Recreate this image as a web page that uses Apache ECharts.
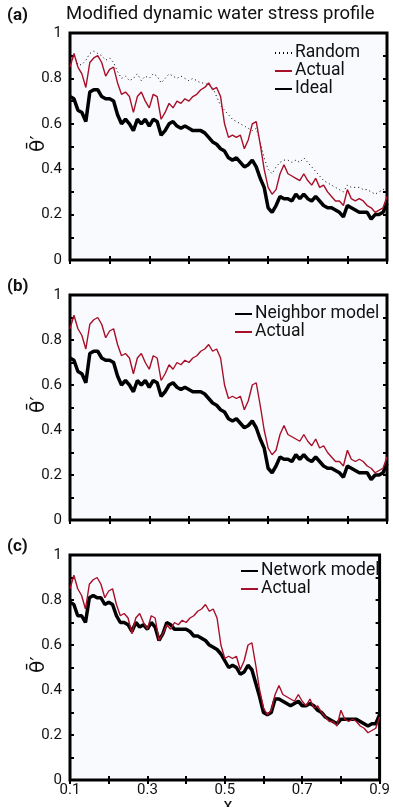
<!DOCTYPE html>
<html><head><meta charset="utf-8">
<script src="https://cdn.jsdelivr.net/npm/echarts@6/dist/echarts.min.js"></script>
<style>html,body{margin:0;padding:0;background:#fff}#c{width:393px;height:807px}</style>
</head><body><div id="c"></div>
<script>
// x positions (sample locations)
const xValues = [0.10,0.11,0.12,0.13,0.14,0.15,0.16,0.17,0.18,0.19,
  0.20,0.21,0.22,0.23,0.24,0.25,0.26,0.27,0.28,0.29,
  0.30,0.31,0.32,0.33,0.34,0.35,0.36,0.37,0.38,0.39,
  0.40,0.41,0.42,0.43,0.44,0.45,0.46,0.47,0.48,0.49,
  0.50,0.51,0.52,0.53,0.54,0.55,0.56,0.57,0.58,0.59,
  0.60,0.61,0.62,0.63,0.64,0.65,0.66,0.67,0.68,0.69,
  0.70,0.71,0.72,0.73,0.74,0.75,0.76,0.77,0.78,0.79,
  0.80,0.81,0.82,0.83,0.84,0.85,0.86,0.87,0.88,0.89,0.90];

const actual = [0.85,0.91,0.85,0.82,0.76,0.87,0.89,0.90,0.87,0.81,
  0.84,0.85,0.78,0.73,0.74,0.72,0.65,0.72,0.74,0.70,
  0.67,0.73,0.72,0.62,0.65,0.69,0.67,0.70,0.69,0.71,
  0.70,0.72,0.73,0.75,0.76,0.78,0.75,0.76,0.72,0.60,
  0.54,0.55,0.54,0.55,0.49,0.53,0.60,0.61,0.51,0.40,
  0.32,0.29,0.31,0.38,0.42,0.38,0.37,0.36,0.35,0.38,
  0.35,0.33,0.36,0.32,0.33,0.30,0.28,0.26,0.26,0.24,
  0.31,0.27,0.26,0.27,0.26,0.24,0.23,0.21,0.22,0.23,0.28];

const ideal = [0.72,0.71,0.66,0.65,0.61,0.74,0.75,0.75,0.72,0.71,
  0.71,0.70,0.64,0.60,0.62,0.60,0.57,0.62,0.60,0.62,
  0.59,0.62,0.61,0.55,0.57,0.60,0.61,0.59,0.58,0.59,
  0.58,0.57,0.57,0.57,0.56,0.54,0.52,0.51,0.49,0.48,
  0.45,0.44,0.45,0.43,0.41,0.42,0.44,0.41,0.36,0.32,
  0.23,0.21,0.24,0.28,0.27,0.27,0.26,0.29,0.27,0.29,
  0.27,0.26,0.28,0.26,0.24,0.23,0.23,0.22,0.21,0.19,
  0.24,0.23,0.22,0.21,0.21,0.21,0.18,0.20,0.20,0.21,0.25];

const neighborModel = [0.72,0.71,0.66,0.65,0.61,0.74,0.75,0.75,0.72,0.71,
  0.71,0.70,0.64,0.60,0.62,0.60,0.57,0.62,0.60,0.62,
  0.59,0.62,0.61,0.55,0.57,0.60,0.61,0.59,0.58,0.59,
  0.58,0.57,0.57,0.57,0.56,0.54,0.52,0.51,0.49,0.48,
  0.45,0.44,0.45,0.43,0.41,0.42,0.44,0.41,0.36,0.32,
  0.23,0.21,0.24,0.28,0.27,0.27,0.26,0.29,0.27,0.29,
  0.27,0.26,0.28,0.26,0.24,0.23,0.23,0.22,0.21,0.19,
  0.24,0.23,0.22,0.21,0.21,0.21,0.18,0.20,0.20,0.21,0.25];

const networkModel = [0.79,0.78,0.73,0.73,0.70,0.81,0.82,0.81,0.81,0.78,
  0.79,0.78,0.73,0.70,0.70,0.69,0.66,0.70,0.68,0.69,
  0.67,0.70,0.68,0.62,0.65,0.70,0.69,0.67,0.67,0.67,
  0.67,0.66,0.64,0.64,0.63,0.62,0.60,0.59,0.58,0.56,
  0.53,0.50,0.51,0.50,0.47,0.48,0.51,0.49,0.43,0.37,
  0.30,0.29,0.30,0.36,0.36,0.35,0.34,0.33,0.34,0.35,
  0.33,0.33,0.34,0.33,0.31,0.30,0.28,0.27,0.26,0.25,
  0.27,0.27,0.27,0.27,0.27,0.26,0.25,0.24,0.25,0.25,0.29];

const random = [0.85,0.90,0.86,0.86,0.88,0.91,0.92,0.91,0.90,0.88,
  0.89,0.87,0.83,0.80,0.81,0.79,0.80,0.82,0.79,0.81,
  0.80,0.82,0.81,0.78,0.80,0.82,0.81,0.80,0.81,0.80,
  0.79,0.80,0.79,0.78,0.78,0.77,0.76,0.72,0.68,0.66,
  0.64,0.62,0.61,0.60,0.59,0.58,0.57,0.58,0.52,0.45,
  0.40,0.38,0.41,0.43,0.44,0.44,0.43,0.44,0.43,0.45,
  0.43,0.41,0.39,0.37,0.35,0.34,0.33,0.32,0.31,0.30,
  0.33,0.32,0.32,0.32,0.31,0.31,0.30,0.29,0.30,0.31,0.32];

const xTicks = [0.1, 0.3, 0.5, 0.7, 0.9];
const yTicks = [0, 0.2, 0.4, 0.6, 0.8, 1];
const panelLabels = ['(a)', '(b)', '(c)'];
const titleText = 'Modified dynamic water stress profile';
const yName = 'θ\u0304\u2032';
const xName = 'x';

const FONT = 'Roboto';
const RED = '#a80f28';
const panels = [{top: 33, height: 227}, {top: 295, height: 225}, {top: 555, height: 225}];

const chart = echarts.init(document.getElementById('c'), null, {renderer: 'canvas'});
const pairs = arr => xValues.map((x, k) => [x, arr[k]]);

const tickStyle = {color: '#000', width: 2};
const grid = panels.map(p => ({left: 70, right: 6, top: p.top, height: p.height, show: true,
  backgroundColor: '#f8fafd', borderColor: '#000', borderWidth: 3}));

const xAxis = [], yAxis = [];
panels.forEach((p, i) => {
  ['bottom', 'top'].forEach(pos => {
    xAxis.push({type: 'value', gridIndex: i, position: pos, min: xTicks[0], max: xTicks[xTicks.length - 1], interval: 0.2,
      axisLine: {show: false}, splitLine: {show: false},
      axisTick: {inside: true, length: 4, lineStyle: tickStyle},
      minorTick: {show: true, splitNumber: 2, length: 4, lineStyle: tickStyle},
      axisLabel: {show: i === 2 && pos === 'bottom', fontFamily: FONT, fontSize: 15, color: '#111', margin: 3,
        formatter: v => (Math.round(v * 10) / 10).toFixed(1)}
    });
  });
  ['left', 'right'].forEach(pos => {
    yAxis.push({type: 'value', gridIndex: i, position: pos, min: yTicks[0], max: yTicks[yTicks.length - 1], interval: 0.2,
      axisLine: {show: false}, splitLine: {show: false},
      axisTick: {inside: true, length: 4, lineStyle: tickStyle},
      minorTick: {show: true, splitNumber: 2, length: 4, lineStyle: tickStyle},
      axisLabel: {show: pos === 'left', fontFamily: FONT, fontSize: 15, color: '#111', margin: 8,
        formatter: v => v === 0 ? '0' : (v === 1 ? '1' : (Math.round(v * 10) / 10).toFixed(1))}
    });
  });
});

const line = (name, arr, panel, color, width, type, z) => ({
  type: 'line', name, data: pairs(arr), xAxisIndex: panel * 2, yAxisIndex: panel * 2,
  showSymbol: false, symbol: 'none', z, animation: false,
  lineStyle: {color, width, type: type || 'solid'}, itemStyle: {color}
});

const series = [
  line('Random', random, 0, '#000', 1, [1, 3], 2),
  line('Ideal', ideal, 0, '#000', 3.5, null, 3),
  line('Actual', actual, 0, RED, 1.4, null, 4),
  line('Neighbor model', neighborModel, 1, '#000', 3.5, null, 3),
  line('Actual', actual, 1, RED, 1.4, null, 4),
  line('Network model', networkModel, 2, '#000', 3.5, null, 3),
  line('Actual', actual, 2, RED, 1.4, null, 4)
];

const legendBase = {orient: 'vertical', itemWidth: 17, itemHeight: 14, itemGap: 0, padding: 0, width: 160,
  itemStyle: {opacity: 0},
  textStyle: {fontFamily: FONT, fontSize: 17.5, color: '#111', padding: [0, 0, 0, -2], overflow: 'none'},
  selectedMode: false, backgroundColor: 'transparent'};
const legend = [
  Object.assign({}, legendBase, {left: 274, top: 44, data: ['Random', 'Actual', 'Ideal']}),
  Object.assign({}, legendBase, {left: 234, top: 305, data: ['Neighbor model', 'Actual']}),
  Object.assign({}, legendBase, {left: 240, top: 562, data: ['Network model', 'Actual']})
];

const labelY = [17, 288, 548];
const graphic = panelLabels.map((t, i) => ({type: 'text', left: 7, top: labelY[i] - 10,
  style: {text: t, font: 'bold 17px ' + FONT, fill: '#111'}}));
graphic.push({type: 'text', left: 66, top: 5, style: {text: titleText, font: '18.5px ' + FONT, fill: '#111'}});
panels.forEach(p => {
  graphic.push({type: 'text', x: 39, y: p.top + p.height / 2 - 3, rotation: Math.PI / 2,
    style: {text: yName, font: '20px "DejaVu Sans"', fill: '#111', align: 'center', verticalAlign: 'middle'}});
});
graphic.push({type: 'text', x: 228, y: 806, style: {text: xName, font: '18px ' + FONT, fill: '#111', align: 'center', verticalAlign: 'middle'}});

chart.setOption({animation: false, grid, xAxis, yAxis, series, legend, graphic});
</script></body></html>
